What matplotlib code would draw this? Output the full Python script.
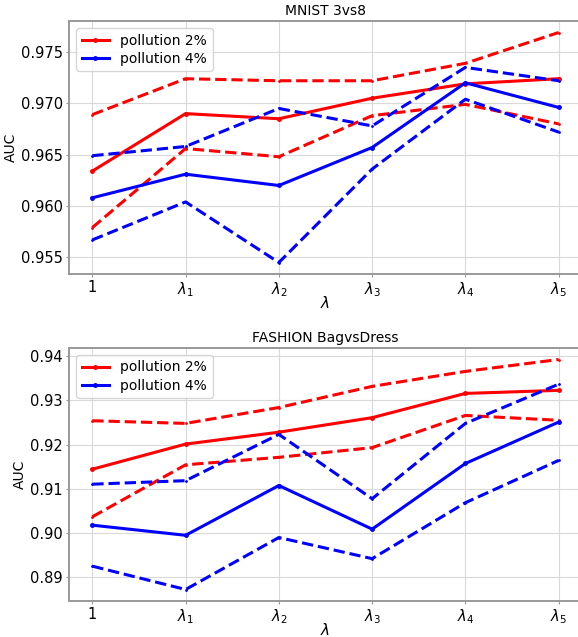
import matplotlib
matplotlib.use("Agg")
import matplotlib.pyplot as plt

x_labels = ["1", r"$\lambda_1$", r"$\lambda_2$", r"$\lambda_3$", r"$\lambda_4$", r"$\lambda_5$"]
x = list(range(len(x_labels)))

# MNIST 3vs8
mnist_p2_mean = [0.9634, 0.9690, 0.9685, 0.9705, 0.9719, 0.9724]
mnist_p2_up = [0.9689, 0.9724, 0.9722, 0.9722, 0.9739, 0.9769]
mnist_p2_lo = [0.9579, 0.9656, 0.9648, 0.9688, 0.9699, 0.9680]
mnist_p4_mean = [0.9608, 0.9631, 0.9620, 0.9657, 0.9720, 0.9696]
mnist_p4_up = [0.9649, 0.9658, 0.9695, 0.9678, 0.9735, 0.9722]
mnist_p4_lo = [0.9567, 0.9604, 0.9545, 0.9636, 0.9704, 0.9672]

# FASHION BagvsDress
fash_p2_mean = [0.9144, 0.9201, 0.9228, 0.9261, 0.9316, 0.9323]
fash_p2_up = [0.9254, 0.9248, 0.9284, 0.9332, 0.9366, 0.9393]
fash_p2_lo = [0.9036, 0.9154, 0.9171, 0.9193, 0.9266, 0.9255]
fash_p4_mean = [0.9017, 0.8994, 0.9107, 0.9008, 0.9157, 0.9251]
fash_p4_up = [0.9110, 0.9118, 0.9223, 0.9077, 0.9248, 0.9337]
fash_p4_lo = [0.8924, 0.8871, 0.8989, 0.8941, 0.9068, 0.9164]

plt.rcParams['font.size'] = 10

fig = plt.figure(figsize=(5.78, 6.37), dpi=100)
ax1 = fig.add_axes([69/578, 1-274/637, 513/578, 253/637])
ax2 = fig.add_axes([69/578, 1-601/637, 513/578, 253/637])

lw = 2.2
ms = 5

def draw(ax, title, m2, u2, l2, m4, u4, l4):
    ax.plot(x, m2, color='red', lw=lw, marker='.', ms=ms, label='pollution 2%')
    ax.plot(x, u2, color='red', lw=lw, ls='--', marker='.', ms=2)
    ax.plot(x, l2, color='red', lw=lw, ls='--', marker='.', ms=2)
    ax.plot(x, m4, color='blue', lw=lw, marker='.', ms=ms, label='pollution 4%')
    ax.plot(x, u4, color='blue', lw=lw, ls='--', marker='.', ms=2)
    ax.plot(x, l4, color='blue', lw=lw, ls='--', marker='.', ms=2)
    ax.set_xticks(x)
    ax.set_xticklabels(x_labels)
    ax.set_xlabel(r'$\lambda$', fontsize=11)
    ax.xaxis.set_label_coords(0.5, -0.082)
    ax.set_ylabel('AUC', labelpad=2)
    ax.set_title(title, fontsize=10, pad=4)
    ax.grid(True, color='#d9d9d9', lw=0.8)
    ax.set_axisbelow(True)
    for s in ax.spines.values():
        s.set_color('#999999')
        s.set_linewidth(1.4)
    ax.tick_params(colors='#999999', labelcolor='black', labelsize=10.5,
                   length=2.5, pad=2)
    ax.legend(loc='upper left', fontsize=10, handlelength=2.0, borderpad=0.4,
              labelspacing=0.3)

draw(ax1, 'MNIST 3vs8', mnist_p2_mean, mnist_p2_up, mnist_p2_lo,
     mnist_p4_mean, mnist_p4_up, mnist_p4_lo)
ax1.set_yticks([0.955, 0.960, 0.965, 0.970, 0.975])
draw(ax2, 'FASHION BagvsDress', fash_p2_mean, fash_p2_up, fash_p2_lo,
     fash_p4_mean, fash_p4_up, fash_p4_lo)
ax2.set_yticks([0.89, 0.90, 0.91, 0.92, 0.93, 0.94])

fig.savefig('out.png', dpi=100)
